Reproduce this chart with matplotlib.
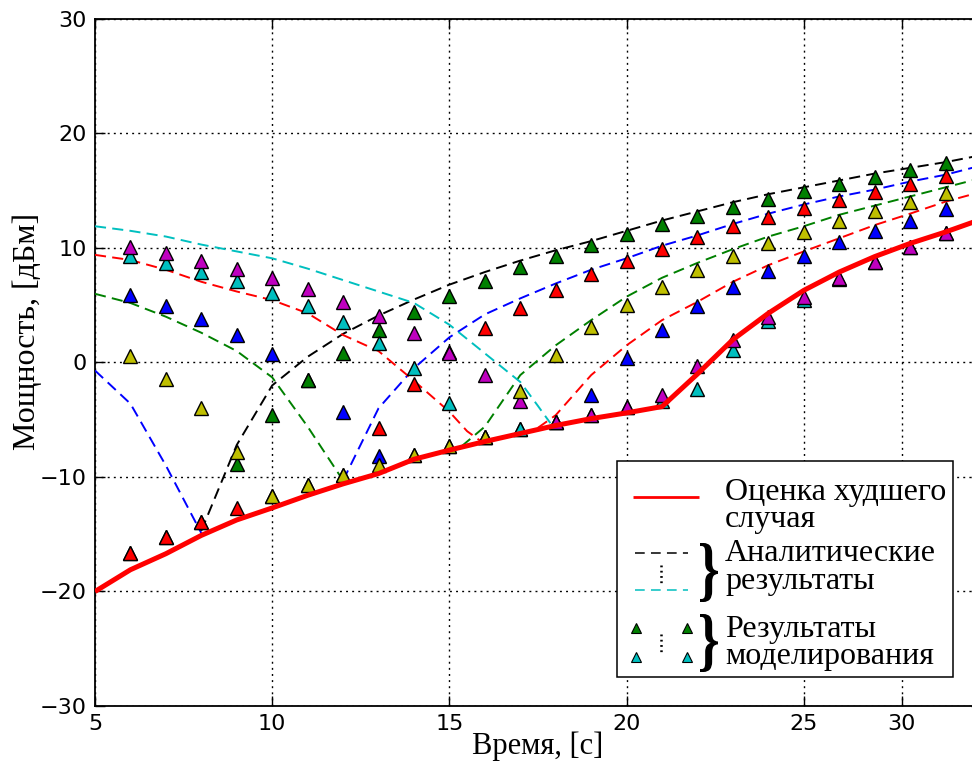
import matplotlib
matplotlib.use("Agg")
import matplotlib.pyplot as plt
from matplotlib.patches import Rectangle, PathPatch
from matplotlib.textpath import TextPath
from matplotlib.font_manager import FontProperties
from matplotlib.transforms import Affine2D

plt.rcParams['lines.scale_dashes'] = False

# ---------------- data ----------------
x_sim = list(range(6, 30))
sim_b = [5.9, 4.9, 3.8, 2.4, 0.7, -1.5, -4.3, -8.2, -8.1, -7.3, -6.5, -5.8, -5.2, -2.8,
         0.4, 2.8, 4.9, 6.6, 8.0, 9.3, 10.5, 11.5, 12.4, 13.4]
sim_g = [-16.6, -15.2, -13.9, -8.9, -4.6, -1.5, 0.8, 2.8, 4.4, 5.8, 7.1, 8.3, 9.3, 10.3,
         11.2, 12.1, 12.8, 13.6, 14.3, 15.0, 15.6, 16.2, 16.8, 17.4]
sim_r = [-16.6, -15.2, -13.9, -12.7, -11.7, -10.7, -9.8, -5.7, -1.9, 0.9, 3.0, 4.8, 6.3, 7.7,
         8.9, 9.9, 11.0, 11.9, 12.7, 13.5, 14.2, 14.9, 15.6, 16.3]
sim_c = [9.3, 8.7, 7.9, 7.1, 6.1, 4.9, 3.5, 1.7, -0.5, -3.5, -6.5, -5.8, -5.2, -4.6,
         -3.9, -3.4, -2.3, 1.1, 3.6, 5.5, 7.3, 8.8, 10.1, 11.3]
sim_m = [10.1, 9.6, 8.9, 8.2, 7.35, 6.4, 5.3, 4.1, 2.55, 0.86, -1.1, -3.4, -5.2, -4.6,
         -3.9, -2.8, -0.3, 2.0, 4.0, 5.75, 7.35, 8.8, 10.1, 11.3]
sim_y = [0.6, -1.4, -4.0, -7.8, -11.7, -10.7, -9.8, -8.95, -8.1, -7.3, -6.5, -2.5, 0.66, 3.1,
         5.0, 6.6, 8.1, 9.3, 10.4, 11.4, 12.4, 13.2, 14.0, 14.8]

# analytic curves (descending / ascending branches)
x_blue_down = [5, 6, 7, 8]
y_blue_down = [-0.7, -3.6, -9.0, -14.9]
x_black_up = list(range(8, 31))
y_black_up = [-14.7, -7.2, -2.0, 0.5, 2.5, 4.1, 5.5, 6.8, 7.9, 8.9, 9.8, 10.6, 11.5, 12.4,
              13.2, 14.0, 14.7, 15.3, 15.9, 16.5, 17.0, 17.5, 18.1]
x_green_down = [5, 6, 7, 8, 9, 10, 11, 12]
y_green_down = [6.0, 5.2, 4.0, 2.6, 1.0, -1.3, -5.6, -10.3]
x_blue_up = list(range(12, 31))
y_blue_up = [-10.3, -4.0, -0.5, 2.2, 4.2, 5.6, 6.9, 8.1, 9.1, 10.2, 11.1, 12.1, 13.0, 13.8,
             14.5, 15.1, 15.8, 16.4, 17.2]
x_red_down = [5, 6, 7, 8, 9, 10, 11, 12, 13, 14, 15, 15.5, 15.9]
y_red_down = [9.4, 8.95, 8.1, 7.05, 6.2, 5.45, 4.3, 2.4, 1.0, -1.6, -4.3, -6.0, -6.9]
x_green_up = [15.35] + list(range(16, 31))
y_green_up = [-7.3, -5.6, -1.1, 1.5, 3.7, 5.75, 7.4, 8.7, 9.9, 11.0, 11.9, 12.9, 13.7, 14.5,
              15.3, 16.1]
x_cyan_down = [5, 6, 7, 8, 9, 10, 11, 12, 13, 14, 15, 16, 17, 17.5, 17.85]
y_cyan_down = [11.9, 11.5, 11.0, 10.3, 9.7, 9.1, 8.2, 7.2, 6.2, 5.2, 3.3, 0.8, -1.7, -3.8, -5.3]
x_red_up = [17.5] + list(range(18, 31))
y_red_up = [-5.7, -4.6, -1.1, 1.5, 3.7, 5.3, 7.05, 8.5, 9.7, 10.85, 12.0, 13.0, 14.05, 14.9]

# worst case estimate
x_worst = list(range(5, 31))
y_worst = [-20.0, -18.1, -16.7, -15.1, -13.75, -12.7, -11.6, -10.6, -9.7, -8.45, -7.65, -6.9,
           -6.2, -5.5, -4.9, -4.4, -3.85, -1.0, 2.0, 4.3, 6.3, 7.9, 9.25, 10.4, 11.4, 12.5]

xtick_pos = [5, 10, 15, 20, 25, 27.76]
xtick_labels = ['5', '10', '15', '20', '25', '30']
yticks = [-30, -20, -10, 0, 10, 20, 30]

xlabel = 'Время, [с]'
ylabel = 'Мощность, [дБм]'
leg_labels = ['Оценка худшего\nслучая', 'Аналитические\nрезультаты', 'Результаты\nмоделирования']

C = {'b': (0, 0, 1), 'g': (0, 0.5, 0), 'r': (1, 0, 0), 'c': (0, 0.75, 0.75),
     'm': (0.75, 0, 0.75), 'y': (0.75, 0.75, 0), 'k': (0, 0, 0)}

# ---------------- figure ----------------
W, H = 972, 769
fig = plt.figure(figsize=(W / 100, H / 100), dpi=100)
L, R, T, B = 95, 981, 19, 706
ax = fig.add_axes([L / W, 1 - B / H, (R - L) / W, (B - T) / H])

dash = (8.0, 4.5)
for xs, ys, col in [(x_blue_down, y_blue_down, 'b'), (x_black_up, y_black_up, 'k'),
                    (x_green_down, y_green_down, 'g'), (x_blue_up, y_blue_up, 'b'),
                    (x_red_down, y_red_down, 'r'), (x_green_up, y_green_up, 'g'),
                    (x_cyan_down, y_cyan_down, 'c'), (x_red_up, y_red_up, 'r')]:
    ax.plot(xs, ys, color=C[col], lw=1.4, dashes=dash, zorder=3)

for ys, col in [(sim_b, 'b'), (sim_g, 'g'), (sim_r, 'r'), (sim_c, 'c'), (sim_m, 'm'), (sim_y, 'y')]:
    ax.plot(x_sim, ys, linestyle='none', marker='^', ms=10, mfc=C[col], mec='k', mew=1.0, zorder=4)

ax.plot(x_worst, y_worst, color=C['r'], lw=3.6, zorder=5, solid_capstyle='butt')

ax.set_xlim(5, 30)
ax.set_ylim(-30, 30)
ax.set_xticks(xtick_pos)
ax.set_xticklabels(xtick_labels)
ax.set_yticks(yticks)
ax.tick_params(direction='in', top=True, right=True, length=7, width=1, labelsize=16, pad=6)
for lab in ax.get_xticklabels() + ax.get_yticklabels():
    lab.set_fontfamily('DejaVu Sans')
ax.grid(True, color='k', lw=1.0, dashes=(1.4, 3.0))
for s in ax.spines.values():
    s.set_linewidth(1.3)

serif = ['Liberation Serif', 'DejaVu Serif']
ax.set_xlabel(xlabel, fontsize=22, family=serif, va='center')
ax.xaxis.set_label_coords(0.5, (B - 746) / (B - T))
ax.set_ylabel(ylabel, fontsize=23, family=serif, va='center', ha='center')
ax.yaxis.set_label_coords((27 - L) / (R - L), (B - 331) / (B - T))

# ---------------- custom legend ----------------
def fx(px):
    return (px - L) / (R - L)

def fy(py):
    return (B - py) / (B - T)

tA = ax.transAxes
ax.add_patch(Rectangle((fx(617), fy(677)), fx(953) - fx(617), fy(461) - fy(677),
                       transform=tA, fc='white', ec='k', lw=1.1, zorder=10))

ax.plot([fx(633), fx(699)], [fy(497), fy(497)], transform=tA, color=C['r'], lw=2.0, zorder=11,
        solid_capstyle='butt')
ax.plot([fx(635), fx(688)], [fy(553), fy(553)], transform=tA, color='k', lw=1.1, dashes=(7, 4.5), zorder=11)
ax.plot([fx(635), fx(688)], [fy(590), fy(590)], transform=tA, color=C['c'], lw=1.1, dashes=(7, 4.5), zorder=11)
ax.plot([fx(661), fx(661)], [fy(565), fy(584)], transform=tA, color='k', lw=1.8, dashes=(1.3, 2.5), zorder=11)
ax.plot([fx(636), fx(687)], [fy(628), fy(628)], transform=tA, linestyle='none', marker='^', ms=6.5,
        mfc=C['g'], mec='k', mew=0.8, zorder=11)
ax.plot([fx(636), fx(687)], [fy(657), fy(657)], transform=tA, linestyle='none', marker='^', ms=6.5,
        mfc=C['c'], mec='k', mew=0.8, zorder=11)
ax.plot([fx(661), fx(661)], [fy(634), fy(653)], transform=tA, color='k', lw=1.8, dashes=(1.3, 2.5), zorder=11)


def brace(x0, x1, y0, y1):
    tp = TextPath((0, 0), '}', size=1, prop=FontProperties(family='Liberation Serif', weight='bold'))
    e = tp.get_extents()
    tr = Affine2D().translate(-e.x0, -e.y0).scale((x1 - x0) / e.width, (y1 - y0) / e.height).translate(x0, y0)
    ax.add_patch(PathPatch(tr.transform_path(tp), transform=tA, fc='k', ec='none', zorder=11, clip_on=False))


brace(fx(700), fx(718), fy(602), fy(543))
brace(fx(700), fx(718), fy(672), fy(614))

for lab, cy in zip(leg_labels, [506, 567.5, 643]):
    ax.text(fx(725), fy(cy), lab, transform=tA, fontsize=23, family=serif, va='center', ha='left',
            linespacing=0.95, zorder=12)

fig.savefig('out.png', dpi=100)
